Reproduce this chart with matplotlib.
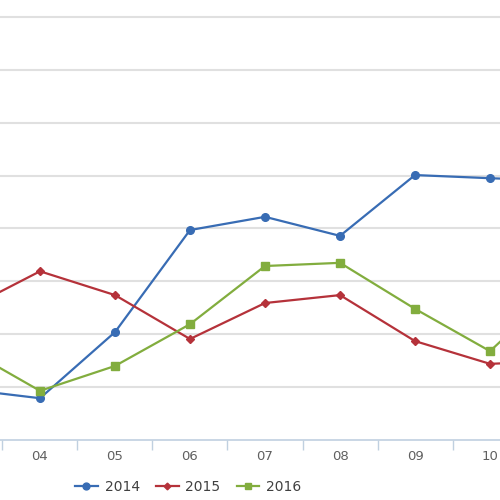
import matplotlib
matplotlib.use("Agg")
import matplotlib.pyplot as plt

# months (03 and 11 are only partly visible at the edges)
months = ["03", "04", "05", "06", "07", "08", "09", "10", "11"]
s2014 = [9.6, 7.9, 20.4, 39.7, 42.2, 38.6, 50.1, 49.5, 49.0]
s2015 = [24.6, 31.9, 27.4, 19.1, 25.9, 27.4, 18.7, 14.4, 15.0]
s2016 = [17.4, 9.3, 14.0, 21.9, 32.9, 33.5, 24.8, 16.8, 30.0]

fig = plt.figure(figsize=(5, 5), dpi=100)
ax = fig.add_axes([0, 0.12, 1, 0.88])

x = list(range(len(months)))
ax.plot(x, s2014, color="#386cb4", lw=1.6, marker="o", ms=5.5, label="2014")
ax.plot(x, s2015, color="#b5323a", lw=1.6, marker="D", ms=3.8, label="2015")
ax.plot(x, s2016, color="#82ad3e", lw=1.6, marker="s", ms=5.5, label="2016")

ax.set_yticks(range(10, 90, 10))
ax.yaxis.grid(True, color="#e0e0e0", lw=1.5)
ax.set_axisbelow(True)
ax.tick_params(axis="y", left=False, labelleft=False)

ax.set_xticks(x)
ax.set_xticklabels(months, fontsize=9.5, color="#606060")
ax.set_xticks([i + 0.5 for i in x[:-1]], minor=True)
ax.tick_params(axis="x", which="major", length=0, pad=7)
ax.tick_params(axis="x", which="minor", length=7, color="#c0d0e0", width=1)

# limits after the ticks, so the ticks do not widen the view
ax.set_xlim(0.467, 7.133)
ax.set_ylim(0, 83.2)

for side in ["top", "left", "right"]:
    ax.spines[side].set_visible(False)
ax.spines["bottom"].set_color("#c0d0e0")
ax.spines["bottom"].set_linewidth(1.2)

fig.legend(loc="center", bbox_to_anchor=(0.377, 0.026), ncol=3, frameon=False,
           fontsize=10, handlelength=1.6, columnspacing=1.2, handletextpad=0.5,
           labelcolor="#404040", markerscale=0.9)

fig.savefig("out.png", dpi=100)
